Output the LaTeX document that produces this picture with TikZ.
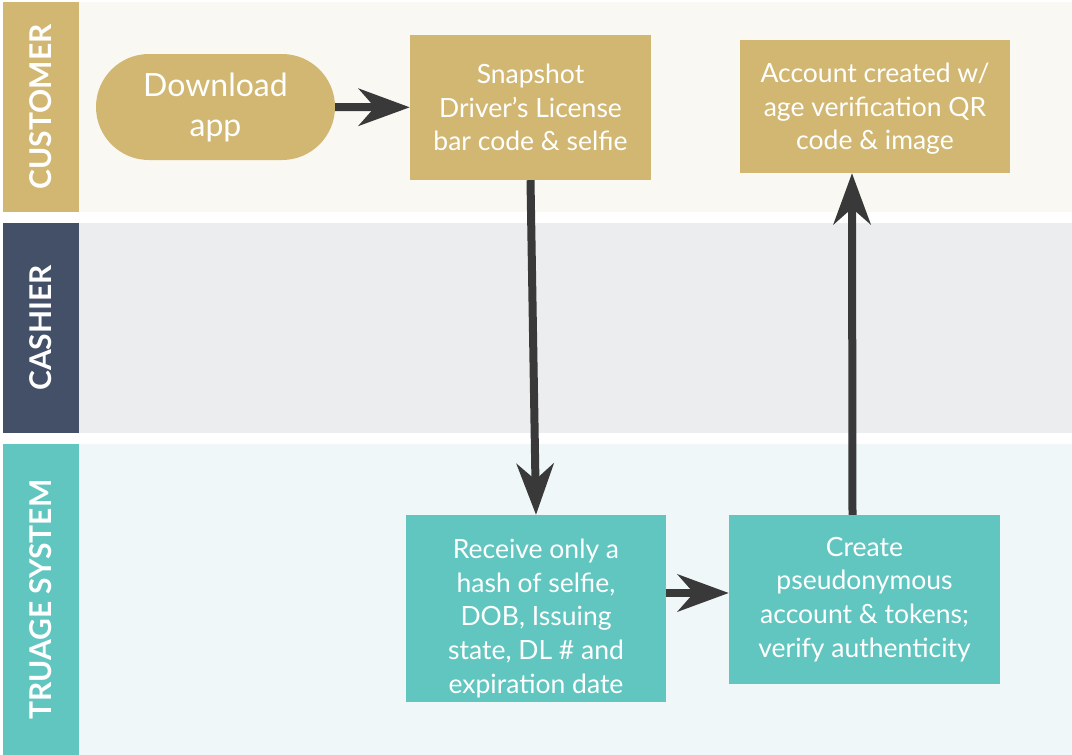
\documentclass[tikz,border=0pt]{standalone}
\usepackage{fontspec}
\setmainfont{Lato}
\usetikzlibrary{arrows.meta}
\definecolor{gold}{HTML}{D1B772}
\definecolor{slate}{HTML}{435068}
\definecolor{teal}{HTML}{62C6C0}
\definecolor{goldbg}{HTML}{FAF8F2}
\definecolor{slatebg}{HTML}{ECEDEF}
\definecolor{tealbg}{HTML}{EFF7F8}
\definecolor{arrowgray}{HTML}{393939}
\tikzset{
  lane/.style={rotate=90, minimum height=76pt, inner sep=0pt, text=white,
    font=\fontsize{30}{32}\selectfont\bfseries},
  stepbox/.style={rectangle, inner sep=4pt, text=white, align=center,
    font=\fontsize{26.5}{33.7}\selectfont},
  flow/.style={draw=arrowgray, line width=8pt,
    -{Stealth[length=51pt,width=37pt,inset=16pt]}}
}
\begin{document}
\begin{tikzpicture}[x=1pt,y=-1pt]
\useasboundingbox (0,0) rectangle (1072,755);
\fill[white] (0,0) rectangle (1072,755);
% swim lanes
\fill[goldbg] (79,2) rectangle (1072,212);
\fill[slatebg] (79,223) rectangle (1072,433);
\fill[tealbg] (79,444) rectangle (1072,755);
\node[lane, fill=gold, minimum width=210pt] (customer) at (41,107) {CUSTOMER};
\node[lane, fill=slate, minimum width=210pt] (cashier) at (41,328) {CASHIER};
\node[lane, fill=teal, minimum width=311pt] (truage) at (41,599.5) {TRUAGE SYSTEM};
% steps
\node[stepbox, fill=gold, minimum width=239pt, minimum height=106pt, rounded corners=53pt,
  font=\fontsize{32}{40}\selectfont] (download) at (215.5,107) {Download\\app};
\node[stepbox, fill=gold, minimum width=241pt, minimum height=145pt] (snapshot) at (530.5,107.5)
  {Snapshot\\Driver’s License\\bar code \& selfie};
\node[stepbox, fill=gold, minimum width=270pt, minimum height=133pt] (account) at (875,106.5)
  {\rule{0pt}{24pt}Account created w/\\age verification QR\\code \& image};
\node[stepbox, fill=teal, minimum width=260pt, minimum height=187pt] (receive) at (536,608.5)
  {\rule{0pt}{39pt}Receive only a\\hash of selfie,\\DOB, Issuing\\state, DL \# and\\expiration date};
\node[stepbox, fill=teal, minimum width=271pt, minimum height=169pt] (create) at (864.5,599.5)
  {Create\\pseudonymous\\account \& tokens;\\verify authenticity};
% connectors
\draw[flow] (download) -- (snapshot);
\draw[flow] (snapshot.south) -- (receive.north);
\draw[flow] ([yshift=15.5pt]receive.east) -- ([yshift=15.5pt]receive.east -| create.west);
\draw[flow] ([xshift=-12pt]create.north) -- ([xshift=-23pt]account.south);
\end{tikzpicture}
\end{document}
